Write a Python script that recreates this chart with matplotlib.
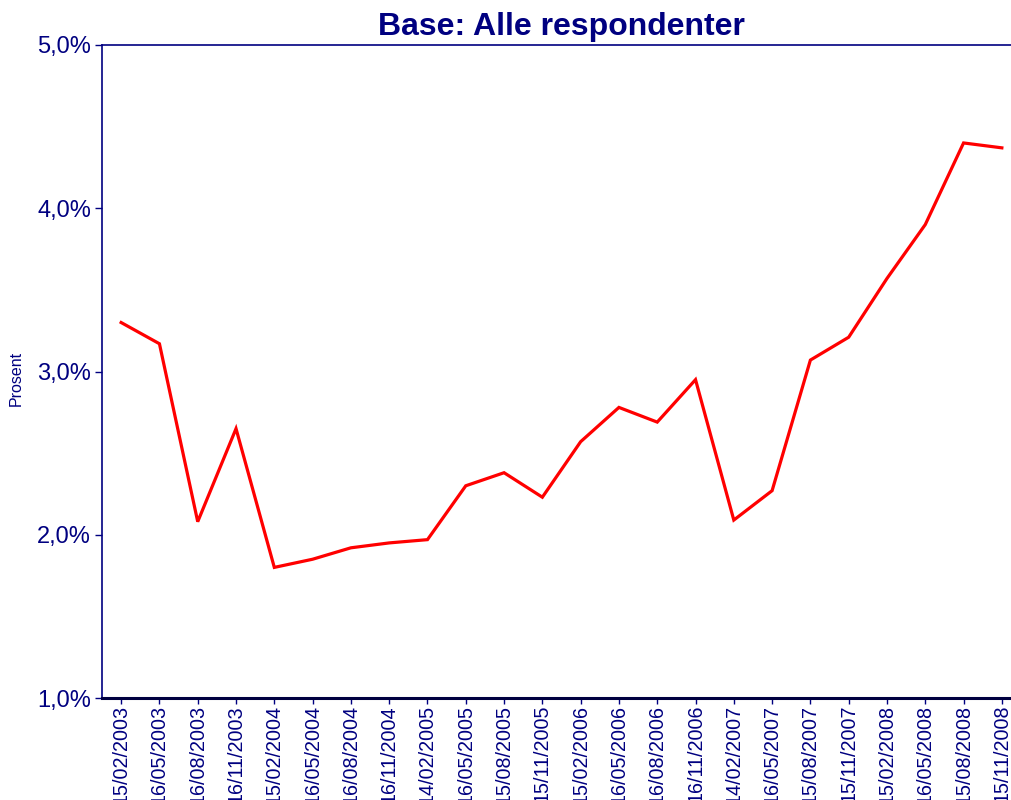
import matplotlib
matplotlib.use("Agg")
import matplotlib.pyplot as plt
from matplotlib.ticker import FuncFormatter

plt.rcParams['font.family'] = ['Liberation Sans', 'DejaVu Sans']

dates = ["15/02/2003", "16/05/2003", "16/08/2003", "16/11/2003",
         "15/02/2004", "16/05/2004", "16/08/2004", "16/11/2004",
         "14/02/2005", "16/05/2005", "15/08/2005", "15/11/2005",
         "15/02/2006", "16/05/2006", "16/08/2006", "16/11/2006",
         "14/02/2007", "16/05/2007", "15/08/2007", "15/11/2007",
         "15/02/2008", "16/05/2008", "15/08/2008", "15/11/2008"]
values = [3.30, 3.17, 2.08, 2.65, 1.80, 1.85, 1.92, 1.95,
          1.97, 2.30, 2.38, 2.23, 2.57, 2.78, 2.69, 2.95,
          2.09, 2.27, 3.07, 3.21, 3.57, 3.90, 4.40, 4.37]
yticks = [1.0, 2.0, 3.0, 4.0, 5.0]

navy = '#000080'
W, H = 1012, 800
fig = plt.figure(figsize=(W / 100, H / 100), dpi=100)
ax = fig.add_axes([102 / W, 1 - 698 / H, (1021 - 102) / W, (698 - 45) / H])

x = list(range(len(dates)))
ax.plot(x, values, color='#ff0000', linewidth=2.3, solid_joinstyle='miter')

ax.set_xlim(-0.5, len(dates) - 0.5)
ax.set_ylim(1.0, 5.0)
ax.set_yticks(yticks)
ax.yaxis.set_major_formatter(FuncFormatter(lambda v, p: f"{v:.1f}%".replace('.', ',')))
ax.set_xticks(x)
ax.set_xticklabels(dates, rotation=90, va='top', ha='center')

ax.tick_params(axis='y', colors=navy, labelsize=17, length=5, width=1, direction='out', pad=3)
ax.tick_params(axis='x', colors=navy, labelsize=14.2, length=4, width=1, direction='out', pad=1)

for s in ['left', 'top']:
    ax.spines[s].set_color(navy)
    ax.spines[s].set_linewidth(1.2)
ax.spines['bottom'].set_color('#000040')
ax.spines['bottom'].set_linewidth(2.2)
ax.spines['right'].set_visible(False)

ax.set_ylabel("Prosent", color=navy, fontsize=11.5)
ax.yaxis.set_label_coords(-78 / (1021 - 102), 0.49)
ax.set_title("Base: Alle respondenter", color=navy, fontsize=23, fontweight='bold', pad=7)

fig.savefig("out.png", dpi=100, facecolor='white')
